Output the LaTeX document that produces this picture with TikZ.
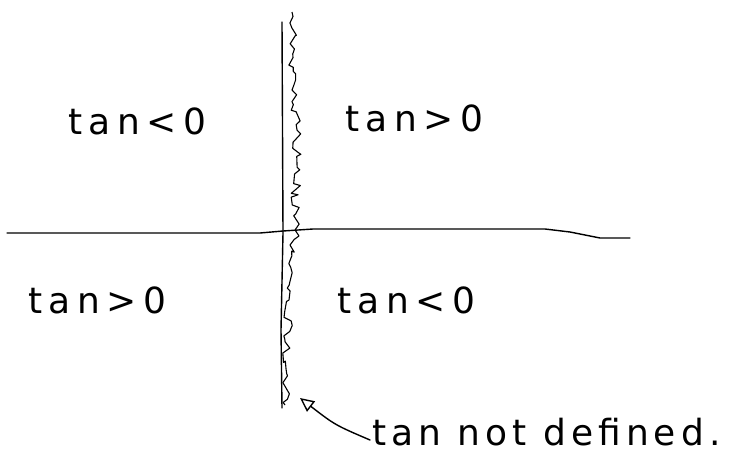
\documentclass[tikz,border=0pt]{standalone}
\usepackage{fontspec}
\setmainfont{DejaVu Sans}
\usetikzlibrary{arrows.meta,decorations.pathmorphing}
\begin{document}
\begin{tikzpicture}[x=1pt,y=-1pt,
  ink/.style={line width=1.4pt,line join=round,line cap=round},
  hand/.style={font=\fontsize{36}{40}\selectfont\addfontfeature{LetterSpace=18},inner sep=0pt,anchor=west},
  handb/.style={font=\fontsize{36}{40}\selectfont\addfontfeature{LetterSpace=14},inner sep=0pt,anchor=west}]
\useasboundingbox (0,0) rectangle (755,464);
% horizontal axis
\draw[ink] (7,233) -- (260,233) -- (283,231) -- (313,229) -- (545,229) -- (570,232) -- (600,238) -- (630,238);
% vertical axis
\draw[ink] (282,22) -- (283,233) -- (281,330) -- (282,408);
% wiggly line
\pgfmathsetseed{7}
\draw[line width=1.1pt,line join=round,decoration={random steps,segment length=5pt,amplitude=4.5pt},decorate]
  (292,12) -- (292,90) -- (297,130) -- (295,230) -- (289,300) -- (285,405);
% labels
\node[hand] (q2) at (68,121) {tan<0};
\node[hand] (q1) at (345,118) {tan>0};
\node[hand] (q3) at (28,300) {tan>0};
\node[hand] (q4) at (337,300) {tan<0};
\node[handb] (nd) at (372,432) {tan not defined.};
\coordinate (tip) at (300,398);
\draw[ink,-{Triangle[open,length=14pt,width=13pt]}] (nd.west) ++(-2,8) .. controls (335,425) .. (tip);
\end{tikzpicture}
\end{document}
